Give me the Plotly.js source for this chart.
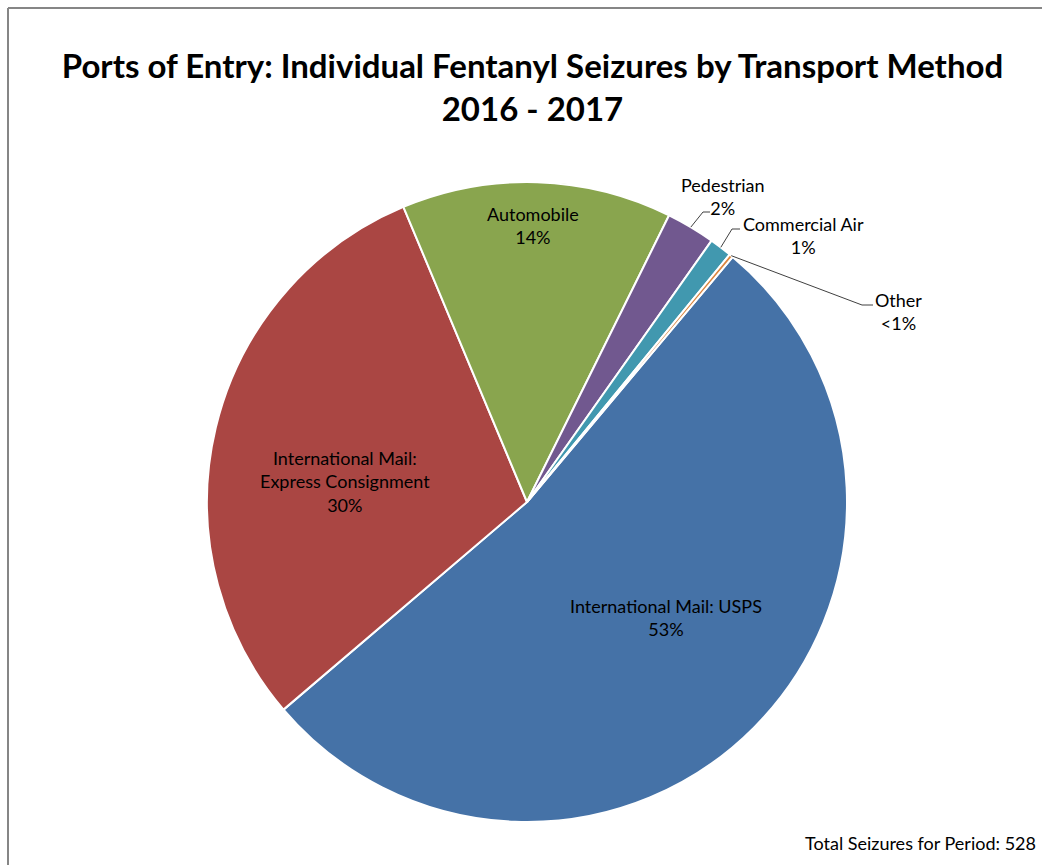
<!DOCTYPE html>
<html>
<head>
<meta charset="utf-8">
<script src="https://cdn.plot.ly/plotly-3.0.1.min.js"></script>
<style>
html,body{margin:0;padding:0;overflow:hidden;background:#fff;}
#chart{width:1042px;height:865px;}
</style>
</head>
<body>
<div id="chart"></div>
<script>
// ---- data ----
const categories = ['International Mail: USPS', 'International Mail: Express Consignment', 'Automobile', 'Pedestrian', 'Commercial Air', 'Other'];
const labelNames = ['International Mail: USPS', 'International Mail:<br>Express Consignment', 'Automobile', 'Pedestrian', 'Commercial Air', 'Other'];
const seizures = [278, 158, 72, 13, 6, 1];
const sliceColors = ['#4572A7', '#AA4643', '#89A54E', '#71588F', '#4198AF', '#DB843D'];
const titleText = '<b>Ports of Entry: Individual Fentanyl Seizures by Transport Method<br>2016 - 2017</b>';
const totalLabel = 'Total Seizures for Period: ';

// ---- geometry (style) ----
const W = 1042, H = 865;
const CX = 527, CY = 502, R = 320;
const ROT = 40; // start angle of first slice, degrees clockwise from 12 o'clock
const fontFam = 'Lato, "Open Sans", sans-serif';

const total = seizures.reduce((a, b) => a + b, 0);
const pct = seizures.map(v => { const p = Math.round(v / total * 100); return p < 1 ? '<1%' : p + '%'; });

// mid angle for each slice (deg)
const mids = [];
let acc = ROT;
seizures.forEach(v => { const span = v / total * 360; mids.push(acc + span / 2); acc += span; });

const px = x => x / W;
const py = y => 1 - y / H;
function polar(angDeg, rr) {
  const a = angDeg * Math.PI / 180;
  return [CX + rr * Math.sin(a), CY - rr * Math.cos(a)];
}

// inside labels: [radius fraction, angle tweak]
const insideLayout = { 0: [0.564, -5], 1: [0.573, -7], 2: [0.863, -0.5] };
// outside labels: text centre and leader elbow (pixel layout)
const outsideLayout = {
  3: { text: [723, 196], elbow: [703, 212], end: [710, 212] },
  4: { text: [803, 236], elbow: [732, 229], end: [740, 229] },
  5: { text: [898, 311], elbow: [862, 305], end: [873, 305] }
};

const annotations = [];
const shapes = [];
const labelFont = { family: fontFam, size: 18, color: '#000' };

categories.forEach((c, i) => {
  const txt = labelNames[i] + '<br>' + pct[i];
  if (insideLayout[i]) {
    const [rf, da] = insideLayout[i];
    const [x, y] = polar(mids[i] + da, R * rf);
    annotations.push({ x: px(x), y: py(y), xref: 'paper', yref: 'paper', text: txt, showarrow: false,
      xanchor: 'center', yanchor: 'middle', align: 'center', font: labelFont });
  } else {
    const o = outsideLayout[i];
    annotations.push({ x: px(o.text[0]), y: py(o.text[1]), xref: 'paper', yref: 'paper', text: txt, showarrow: false,
      xanchor: 'center', yanchor: 'middle', align: 'center', font: labelFont });
    const [sx, sy] = polar(mids[i], R);
    shapes.push({ type: 'path', xref: 'paper', yref: 'paper',
      path: `M ${px(sx)} ${py(sy)} L ${px(o.elbow[0])} ${py(o.elbow[1])} L ${px(o.end[0])} ${py(o.end[1])}`,
      line: { color: '#404040', width: 1 } });
  }
});

annotations.push({ x: px(803), y: py(843), xref: 'paper', yref: 'paper', text: totalLabel + total, showarrow: false,
  xanchor: 'left', yanchor: 'middle', font: { family: fontFam, size: 18, color: '#000' } });

// chart border (top and left visible)
shapes.push({ type: 'line', xref: 'paper', yref: 'paper', x0: px(8), y0: py(8), x1: 1.05, y1: py(8), line: { color: '#868686', width: 2 } });
shapes.push({ type: 'line', xref: 'paper', yref: 'paper', x0: px(8), y0: py(8), x1: px(8), y1: -0.05, line: { color: '#868686', width: 2 } });

const trace = {
  type: 'pie',
  labels: categories,
  values: seizures,
  sort: false,
  direction: 'clockwise',
  rotation: ROT,
  marker: { colors: sliceColors, line: { color: '#ffffff', width: 2 } },
  textinfo: 'none',
  hoverinfo: 'label+value+percent',
  showlegend: false,
  domain: { x: [px(CX - R), px(CX + R)], y: [py(CY + R), py(CY - R)] }
};

const layout = {
  width: W, height: H,
  margin: { l: 0, r: 0, t: 0, b: 0 },
  paper_bgcolor: '#ffffff',
  showlegend: false,
  title: { text: titleText, x: 0.511, xanchor: 'center', y: 1 - 78 / H, yanchor: 'middle',
    font: { family: fontFam, size: 33, color: '#000' } },
  annotations: annotations,
  shapes: shapes
};

Plotly.newPlot('chart', [trace], layout, { displayModeBar: false, staticPlot: true });
</script>
</body>
</html>
